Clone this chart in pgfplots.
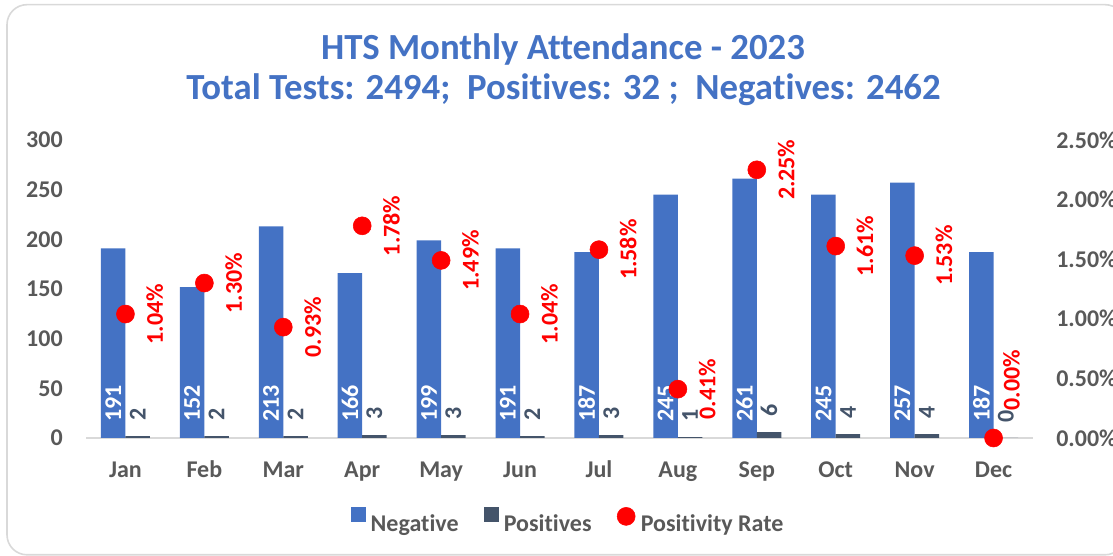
\documentclass[border=0pt]{standalone}
\usepackage{fontspec}
\setmainfont{Carlito}[Ligatures=NoCommon]
\usepackage{pgfplots}
\usepackage{pgfplotstable}
\pgfplotsset{compat=1.18}
\definecolor{cNeg}{HTML}{4472C4}
\definecolor{cPos}{HTML}{44546A}
\definecolor{cRate}{HTML}{FF0000}
\definecolor{cTxt}{HTML}{595959}
\definecolor{cFrame}{HTML}{D9D9D9}
\newcommand{\lblfont}{\fontsize{18}{21}\selectfont\bfseries}

\pgfplotstableread{
x neg pos rate
0 191 2 1.04
1 152 2 1.30
2 213 2 0.93
3 166 3 1.78
4 199 3 1.49
5 191 2 1.04
6 187 3 1.58
7 245 1 0.41
8 261 6 2.25
9 245 4 1.61
10 257 4 1.53
11 187 0 0.00
}\data

\begin{document}
\begin{tikzpicture}
\draw[cFrame, line width=1.2pt, rounded corners=15pt] (5.25pt,0.9pt) rectangle (843.75pt,413.5pt);

\node[anchor=base, font=\fontsize{27.6}{32}\selectfont\bfseries, text=cNeg] at (422.25pt,372pt) {HTS Monthly Attendance - 2023};
\node[anchor=base, font=\fontsize{27.6}{32}\selectfont\bfseries, text=cNeg] at (422.6pt,342pt) {Total Tests: 2494;~~Positives: 32 ;~~Negatives: 2462};

\begin{axis}[
  at={(64.5pt,88.5pt)}, anchor=south west,
  scale only axis, width=710.25pt, height=223.5pt,
  xmin=-0.5, xmax=11.5, ymin=0, ymax=300,
  xtick={0,1,2,3,4,5,6,7,8,9,10,11},
  xticklabels={Jan,Feb,Mar,Apr,May,Jun,Jul,Aug,Sep,Oct,Nov,Dec},
  ytick={0,50,100,150,200,250,300},
  major tick length=0pt,
  axis x line*=bottom, axis y line*=left,
  x axis line style={draw=cFrame, line width=1.3pt},
  y axis line style={draw=none},
  /pgf/number format/assume math mode=true,
  tick label style={font=\lblfont, text=cTxt},
  yticklabel style={anchor=east, inner sep=0pt, xshift=-17.25pt},
  xticklabel style={anchor=base, inner sep=0pt, yshift=-29.6pt},
]
\addplot[ybar, bar width=18.4pt, bar shift=-9.19pt, fill=cNeg, draw=none] table[x=x,y=neg]{\data};
\addplot[ybar, bar width=18.4pt, bar shift=9.19pt, fill=cPos, draw=none] table[x=x,y=pos]{\data};
\addplot[draw=none, mark=none, nodes near coords, point meta=explicit,
  every node near coord/.append style={font=\lblfont, text=white, rotate=90, anchor=west, inner sep=0pt}]
  table[x expr=\thisrow{x}-0.1552, y expr=16.5, meta=neg]{\data};
\addplot[draw=none, mark=none, nodes near coords, point meta=explicit,
  every node near coord/.append style={font=\lblfont, text=cPos, rotate=90, anchor=west, inner sep=0pt}]
  table[x expr=\thisrow{x}+0.1552, y expr=\thisrow{pos}+15.5, meta=pos]{\data};
\end{axis}

\begin{axis}[
  at={(64.5pt,88.5pt)}, anchor=south west,
  scale only axis, width=710.25pt, height=223.5pt,
  xmin=-0.5, xmax=11.5, ymin=0, ymax=2.5,
  axis x line=none, axis y line*=right,
  y axis line style={draw=none},
  ytick={0,0.5,1,1.5,2,2.5},
  major tick length=0pt,
  /pgf/number format/assume math mode=true,
  yticklabel={\pgfmathprintnumber[fixed,fixed zerofill,precision=2]{\tick}\%},
  tick label style={font=\lblfont, text=cTxt},
  yticklabel style={anchor=west, inner sep=0pt, xshift=17.25pt},
  clip=false,
  legend columns=3,
  legend cell align=left,
  legend style={at={(0.508,-0.275)}, anchor=center, draw=none, fill=none,
    inner sep=0pt, outer sep=0pt, font=\lblfont, text=cTxt,
    nodes={inner sep=0pt},
    /tikz/every odd column/.append style={column sep=4pt},
    /tikz/every even column/.append style={column sep=19pt}},
]
\addlegendimage{legend image code/.code={\fill[cNeg] (0pt,2pt) rectangle (10.5pt,12.5pt);}}
\addlegendentry{Negative}
\addlegendimage{legend image code/.code={\fill[cPos] (0pt,2pt) rectangle (10.5pt,12.5pt);}}
\addlegendentry{Positives}
\addplot[only marks, mark=*, mark size=6.75pt, color=cRate,
  legend image code/.code={\fill[cRate] (5.75pt,5.5pt) circle[radius=6.75pt];},
  nodes near coords={\pgfmathprintnumber[fixed,fixed zerofill,precision=2]{\pgfplotspointmeta}\%},
  point meta=y,
  every node near coord/.append style={font=\lblfont, text=cRate, xshift=22pt, rotate=90, anchor=center, inner sep=0pt},
  skip coords between index={11}{12}]
  table[x=x,y=rate]{\data};
\addlegendentry{Positivity Rate}
\addplot[forget plot, only marks, mark=*, mark size=6.75pt, color=cRate,
  nodes near coords={\pgfmathprintnumber[fixed,fixed zerofill,precision=2]{\pgfplotspointmeta}\%},
  point meta=y,
  every node near coord/.append style={font=\lblfont, text=cRate, xshift=13.5pt, yshift=43.5pt, rotate=90, anchor=center, inner sep=0pt},
  skip coords between index={0}{11}]
  table[x=x,y=rate]{\data};
\end{axis}

\pgfresetboundingbox
\useasboundingbox (0,0) rectangle (834.75pt,417pt);
\end{tikzpicture}
\end{document}
